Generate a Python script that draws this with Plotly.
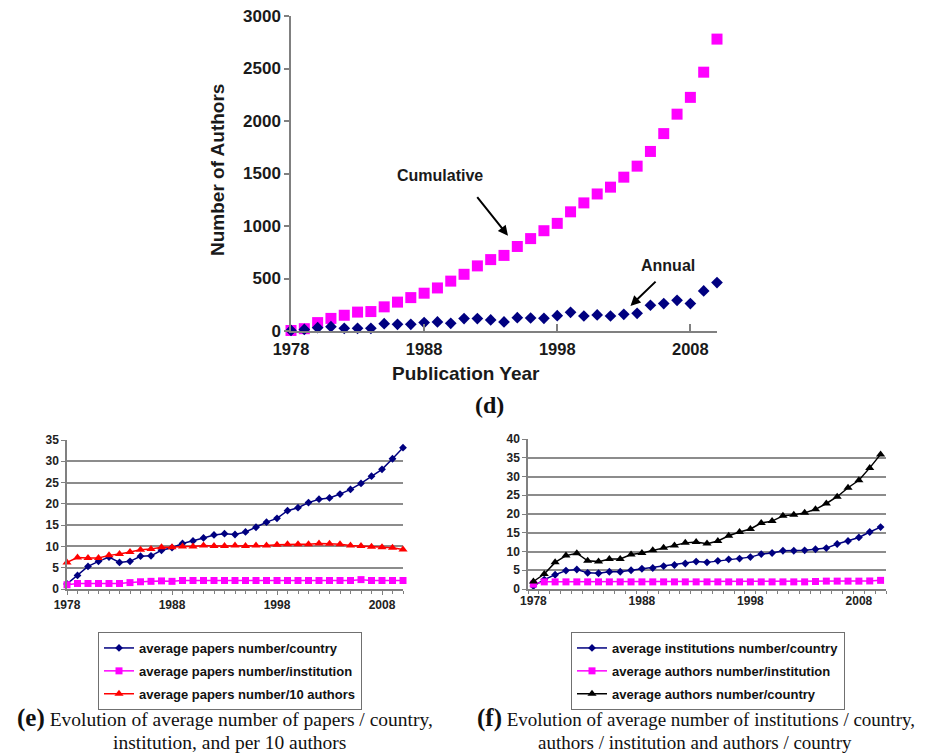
import plotly.graph_objects as go

W, H = 928, 754

years = list(range(1978, 2011))

# (d) Number of authors
cumulative_authors = [5, 22, 80, 120, 150, 180, 185, 230, 275, 318, 360, 410, 475, 540, 620, 680, 720,
                      805, 880, 955, 1025, 1135, 1220, 1305, 1370, 1465, 1570, 1710, 1880, 2065, 2225, 2465, 2780]
annual_authors = [5, 15, 32, 41, 25, 25, 25, 70, 64, 64, 80, 86, 73, 118, 118, 105, 86,
                  127, 124, 121, 146, 178, 143, 153, 143, 159, 168, 245, 261, 292, 261, 382, 461]

# (e) average papers
papers_per_country = [1.2, 3.2, 5.3, 6.5, 7.5, 6.25, 6.5, 7.7, 7.8, 9.1, 9.7, 10.7, 11.3, 12.0, 12.7, 13.0, 12.8,
                      13.4, 14.5, 15.7, 16.6, 18.4, 19.1, 20.3, 21.1, 21.4, 22.3, 23.4, 24.8, 26.5, 28.1, 30.6, 33.2]
papers_per_institution = [1.0, 1.3, 1.3, 1.3, 1.3, 1.3, 1.5, 1.7, 1.8, 1.9, 1.8, 2.0, 2.0, 2.0, 2.0, 2.0, 2.0,
                          2.0, 2.0, 2.0, 2.0, 2.0, 2.0, 2.0, 2.0, 2.0, 2.0, 2.0, 2.2, 2.0, 2.0, 2.0, 2.0]
papers_per_10_authors = [6.25, 7.4, 7.3, 7.3, 7.9, 8.2, 8.7, 9.2, 9.4, 9.8, 9.8, 10.0, 10.0, 10.2, 10.1, 10.1, 10.2,
                         10.1, 10.2, 10.2, 10.4, 10.5, 10.5, 10.5, 10.7, 10.6, 10.5, 10.2, 10.1, 9.9, 9.8, 9.7, 9.3]

# (f) average institutions / authors
institutions_per_country = [0.8, 2.5, 3.8, 4.9, 5.2, 4.3, 4.2, 4.6, 4.6, 5.0, 5.4, 5.6, 6.1, 6.4, 6.8, 7.3, 7.1,
                            7.5, 7.9, 8.1, 8.5, 9.3, 9.6, 10.2, 10.2, 10.3, 10.6, 10.9, 12.0, 12.8, 13.75, 15.2, 16.5]
authors_per_institution = [1.3, 1.9, 1.9, 1.9, 1.9, 1.9, 1.9, 1.9, 1.9, 1.9, 1.9, 1.9, 1.9, 1.9, 1.9, 1.9, 1.9,
                           1.9, 1.9, 1.9, 1.9, 1.9, 1.9, 1.9, 1.9, 1.9, 2.0, 2.1, 2.1, 2.1, 2.1, 2.15, 2.3]
authors_per_country = [2.0, 4.0, 7.1, 8.9, 9.55, 7.5, 7.3, 8.0, 8.0, 9.2, 9.6, 10.3, 11.0, 11.6, 12.3, 12.5, 12.1,
                       12.8, 14.2, 15.2, 16.0, 17.6, 18.1, 19.5, 19.8, 20.3, 21.25, 22.8, 24.6, 27.0, 29.0, 32.3, 35.9]

MAG = "#FF00FF"
NAVY = "#000080"
RED = "#FF0000"
BLK = "#000000"
AX = "#808080"
SANS = "Liberation Sans, Arial, sans-serif"
SERIF = "Liberation Serif, Times New Roman, serif"


def px_x(p):
    return p / W


def px_y(p):
    return 1 - p / H


fig = go.Figure()

# ---- (d)
fig.add_trace(go.Scatter(x=years, y=cumulative_authors, mode="markers", name="Cumulative",
                         marker=dict(symbol="square", size=11, color=MAG), showlegend=False,
                         xaxis="x", yaxis="y", cliponaxis=False))
fig.add_trace(go.Scatter(x=years, y=annual_authors, mode="markers", name="Annual",
                         marker=dict(symbol="diamond", size=9, color=NAVY), showlegend=False,
                         xaxis="x", yaxis="y", cliponaxis=False))

# ---- (e)
fig.add_trace(go.Scatter(x=years, y=papers_per_country, mode="lines+markers", name="average papers number/country",
                         line=dict(color=NAVY, width=1.5), marker=dict(symbol="diamond", size=6, color=NAVY),
                         xaxis="x2", yaxis="y2", legend="legend", legendgroup="e1", cliponaxis=False))
fig.add_trace(go.Scatter(x=years, y=papers_per_institution, mode="lines+markers", name="average papers number/institution",
                         line=dict(color=MAG, width=1.5), marker=dict(symbol="square", size=7, color=MAG),
                         xaxis="x2", yaxis="y2", legend="legend", legendgroup="e2", cliponaxis=False))
fig.add_trace(go.Scatter(x=years, y=papers_per_10_authors, mode="lines+markers", name="average papers number/10 authors",
                         line=dict(color=RED, width=1.5), marker=dict(symbol="triangle-up", size=8, color=RED),
                         xaxis="x2", yaxis="y2", legend="legend", legendgroup="e3", cliponaxis=False))

# ---- (f)
fig.add_trace(go.Scatter(x=years, y=institutions_per_country, mode="lines+markers", name="average institutions number/country",
                         line=dict(color=NAVY, width=1.5), marker=dict(symbol="diamond", size=6, color=NAVY),
                         xaxis="x3", yaxis="y3", legend="legend2", legendgroup="f1", cliponaxis=False))
fig.add_trace(go.Scatter(x=years, y=authors_per_institution, mode="lines+markers", name="average authors number/institution",
                         line=dict(color=MAG, width=1.5), marker=dict(symbol="square", size=7, color=MAG),
                         xaxis="x3", yaxis="y3", legend="legend2", legendgroup="f2", cliponaxis=False))
fig.add_trace(go.Scatter(x=years, y=authors_per_country, mode="lines+markers", name="average authors number/country",
                         line=dict(color=BLK, width=1.5), marker=dict(symbol="triangle-up", size=8, color=BLK),
                         xaxis="x3", yaxis="y3", legend="legend2", legendgroup="f3", cliponaxis=False))

tick_big_x = dict(family=SANS, size=16.5, color="#1a1a1a", weight="bold")
tick_big_y = dict(family=SANS, size=17, color="#1a1a1a", weight="bold")
tick_small = dict(family=SANS, size=12, color="#222222", weight="bold")

fig.update_layout(
    width=W, height=H, margin=dict(l=0, r=0, t=0, b=0, autoexpand=False),
    paper_bgcolor="white", plot_bgcolor="white",
    xaxis=dict(domain=[px_x(291), px_x(717)], range=[1978, 2010], anchor="y", automargin=False,
               tickmode="array", tickvals=[1978, 1988, 1998, 2008], ticks="inside", ticklen=7,
               tickcolor=AX, tickwidth=1.5, showline=True, linecolor=AX, linewidth=1.5,
               showgrid=False, zeroline=False, tickfont=tick_big_x, ticklabelstandoff=2),
    yaxis=dict(domain=[px_y(331), px_y(16)], range=[0, 3000], anchor="x", automargin=False,
               dtick=500, ticks="outside", ticklen=5, tickcolor=AX, tickwidth=1.5,
               showline=True, linecolor=AX, linewidth=1.5, showgrid=False, zeroline=False,
               tickfont=tick_big_y),
    xaxis2=dict(domain=[px_x(67), px_x(403)], range=[1978, 2010], anchor="y2", automargin=False,
                tickmode="linear", tick0=1978, dtick=10, ticks="outside", ticklen=4,
                tickcolor=AX, showline=True, linecolor=AX, linewidth=1.5, showgrid=False, zeroline=False,
                minor=dict(ticks="outside", ticklen=3, dtick=1, tick0=1978, tickcolor=AX),
                tickfont=tick_small),
    yaxis2=dict(domain=[px_y(589), px_y(440)], range=[0, 35], anchor="x2", automargin=False,
                dtick=5, ticks="outside", ticklen=4, tickcolor=AX,
                showline=True, linecolor=AX, linewidth=1.5, showgrid=True, gridcolor="#8c8c8c", gridwidth=1.5,
                zeroline=False, tickfont=tick_small),
    xaxis3=dict(domain=[px_x(528), px_x(886)], range=[1977.5, 2010.5], anchor="y3", automargin=False,
                tickmode="linear", tick0=1978, dtick=10, ticks="", showline=True, linecolor=AX, linewidth=1.5,
                showgrid=False, zeroline=False,
                minor=dict(ticks="outside", ticklen=3, dtick=1, tick0=1977.5, tickcolor=AX),
                tickfont=tick_small),
    yaxis3=dict(domain=[px_y(589), px_y(439)], range=[0, 40], anchor="x3", automargin=False,
                dtick=5, ticks="outside", ticklen=4, tickcolor=AX,
                showline=True, linecolor=AX, linewidth=1.5, showgrid=True, gridcolor="#8c8c8c", gridwidth=1.5,
                zeroline=False, tickfont=tick_small),
    legend=dict(x=px_x(98), y=px_y(632), xanchor="left", yanchor="top",
                bordercolor="#707070", borderwidth=1, bgcolor="white", tracegroupgap=3,
                font=dict(family=SANS, size=13, color="#111111", weight="bold")),
    legend2=dict(x=px_x(571), y=px_y(632), xanchor="left", yanchor="top",
                 bordercolor="#707070", borderwidth=1, bgcolor="white", tracegroupgap=3,
                 font=dict(family=SANS, size=13, color="#111111", weight="bold")),
)

C = dict(xanchor="center", yanchor="middle")
ann = []
# axis titles (d)
ann.append(dict(text="<b>Number of Authors</b>", x=px_x(218), y=px_y(170), xref="paper", yref="paper",
                textangle=-90, showarrow=False, font=dict(family=SANS, size=19, color="#1a1a1a"), **C))
ann.append(dict(text="<b>Publication Year</b>", x=px_x(466), y=px_y(373), xref="paper", yref="paper",
                showarrow=False, font=dict(family=SANS, size=19, color="#1a1a1a"), **C))
ann.append(dict(text="<b>(d)</b>", x=px_x(489), y=px_y(405), xref="paper", yref="paper",
                showarrow=False, font=dict(family=SERIF, size=24, color="#111111"), **C))
# callouts
ann.append(dict(text="<b>Cumulative</b>", x=1989.2, y=1479, xref="x", yref="y", showarrow=False,
                font=dict(family=SANS, size=16, color="#1a1a1a"), **C))
ann.append(dict(text="", x=1994.3, y=907, ax=1991.9, ay=1289, xref="x", yref="y", axref="x", ayref="y",
                showarrow=True, arrowhead=2, arrowsize=1, arrowwidth=2, arrowcolor="#000000"))
ann.append(dict(text="<b>Annual</b>", x=2006.3, y=620, xref="x", yref="y", showarrow=False,
                font=dict(family=SANS, size=16, color="#1a1a1a"), **C))
ann.append(dict(text="", x=2003.5, y=239, ax=2005.5, ay=484, xref="x", yref="y", axref="x", ayref="y",
                showarrow=True, arrowhead=2, arrowsize=1, arrowwidth=2, arrowcolor="#000000"))
# captions
ann.append(dict(text="<span style='font-size:25px'><b>(e)</b></span> Evolution of average number of papers / country,",
                x=px_x(225), y=px_y(718), xref="paper", yref="paper", showarrow=False,
                font=dict(family=SERIF, size=19.5, color="#111111"), **C))
ann.append(dict(text="institution, and per 10 authors",
                x=px_x(229), y=px_y(742), xref="paper", yref="paper", showarrow=False,
                font=dict(family=SERIF, size=19.5, color="#111111"), **C))
ann.append(dict(text="<span style='font-size:25px'><b>(f)</b></span> Evolution of average number of institutions / country,",
                x=px_x(696), y=px_y(718), xref="paper", yref="paper", showarrow=False,
                font=dict(family=SERIF, size=19, color="#111111"), **C))
ann.append(dict(text="authors / institution and authors / country",
                x=px_x(695), y=px_y(742), xref="paper", yref="paper", showarrow=False,
                font=dict(family=SERIF, size=19, color="#111111"), **C))
fig.update_layout(annotations=ann)

fig.write_html("out.html", config={"displayModeBar": False},
               post_script="document.body.style.margin='0px';document.body.style.overflow='hidden';")
